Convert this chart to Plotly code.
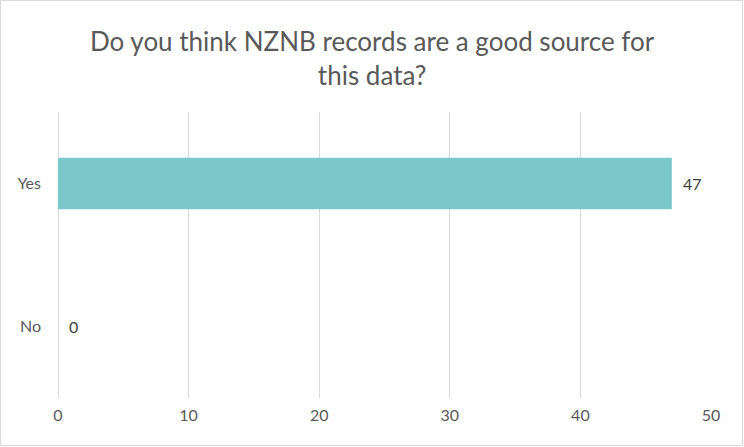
import plotly.graph_objects as go

categories = ["Yes", "No"]
values = [47, 0]
x_ticks = [0, 10, 20, 30, 40, 50]
title_text = "Do you think NZNB records are a good source for<br>this data?"

W, H = 744, 447
ml, mr, mt, mb = 58, 33, 112, 49
pw, ph = W - ml - mr, H - mt - mb
FONT = "Lato, Open Sans, sans-serif"

fig = go.Figure(go.Bar(
    y=categories, x=values, orientation="h",
    marker=dict(color="#7BC8CB", line=dict(width=0)),
    width=0.36,
))

for c, v in zip(categories, values):
    fig.add_annotation(x=v, y=c, text=str(v), showarrow=False, xanchor="left",
                       xshift=9, font=dict(family=FONT, size=16, color="#404040"))

fig.add_annotation(text=title_text, xref="paper", yref="paper",
                   x=(W / 2 - ml) / pw, y=1 + (mt - 58) / ph,
                   xanchor="center", yanchor="middle", showarrow=False,
                   font=dict(family=FONT, size=26, color="#595959"))

fig.update_layout(
    width=W, height=H,
    margin=dict(l=ml, r=mr, t=mt, b=mb, autoexpand=False),
    paper_bgcolor="white", plot_bgcolor="white",
    showlegend=False,
    xaxis=dict(range=[0, 50], tickvals=x_ticks, showgrid=True, gridcolor="#d9d9d9", gridwidth=1,
               zeroline=True, zerolinecolor="#d9d9d9", zerolinewidth=1, showline=False,
               tickfont=dict(family=FONT, size=16, color="#595959"),
               ticks="", ticklabelstandoff=6, automargin=False),
    yaxis=dict(categoryorder="array", categoryarray=categories[::-1], showgrid=False,
               zeroline=False, showline=False, ticks="",
               tickfont=dict(family=FONT, size=16, color="#595959"),
               ticklabelstandoff=16, automargin=False),
    shapes=[dict(type="rect", xref="paper", yref="paper",
                 x0=-(ml - 0.5) / pw, x1=1 + (mr - 1.5) / pw,
                 y0=-(mb - 1.5) / ph, y1=1 + (mt - 0.5) / ph,
                 line=dict(color="#d9d9d9", width=1), fillcolor="rgba(0,0,0,0)", layer="below")],
)

fig.write_html("out.html", post_script="document.body.style.margin='0';",
               config={"displayModeBar": False})
